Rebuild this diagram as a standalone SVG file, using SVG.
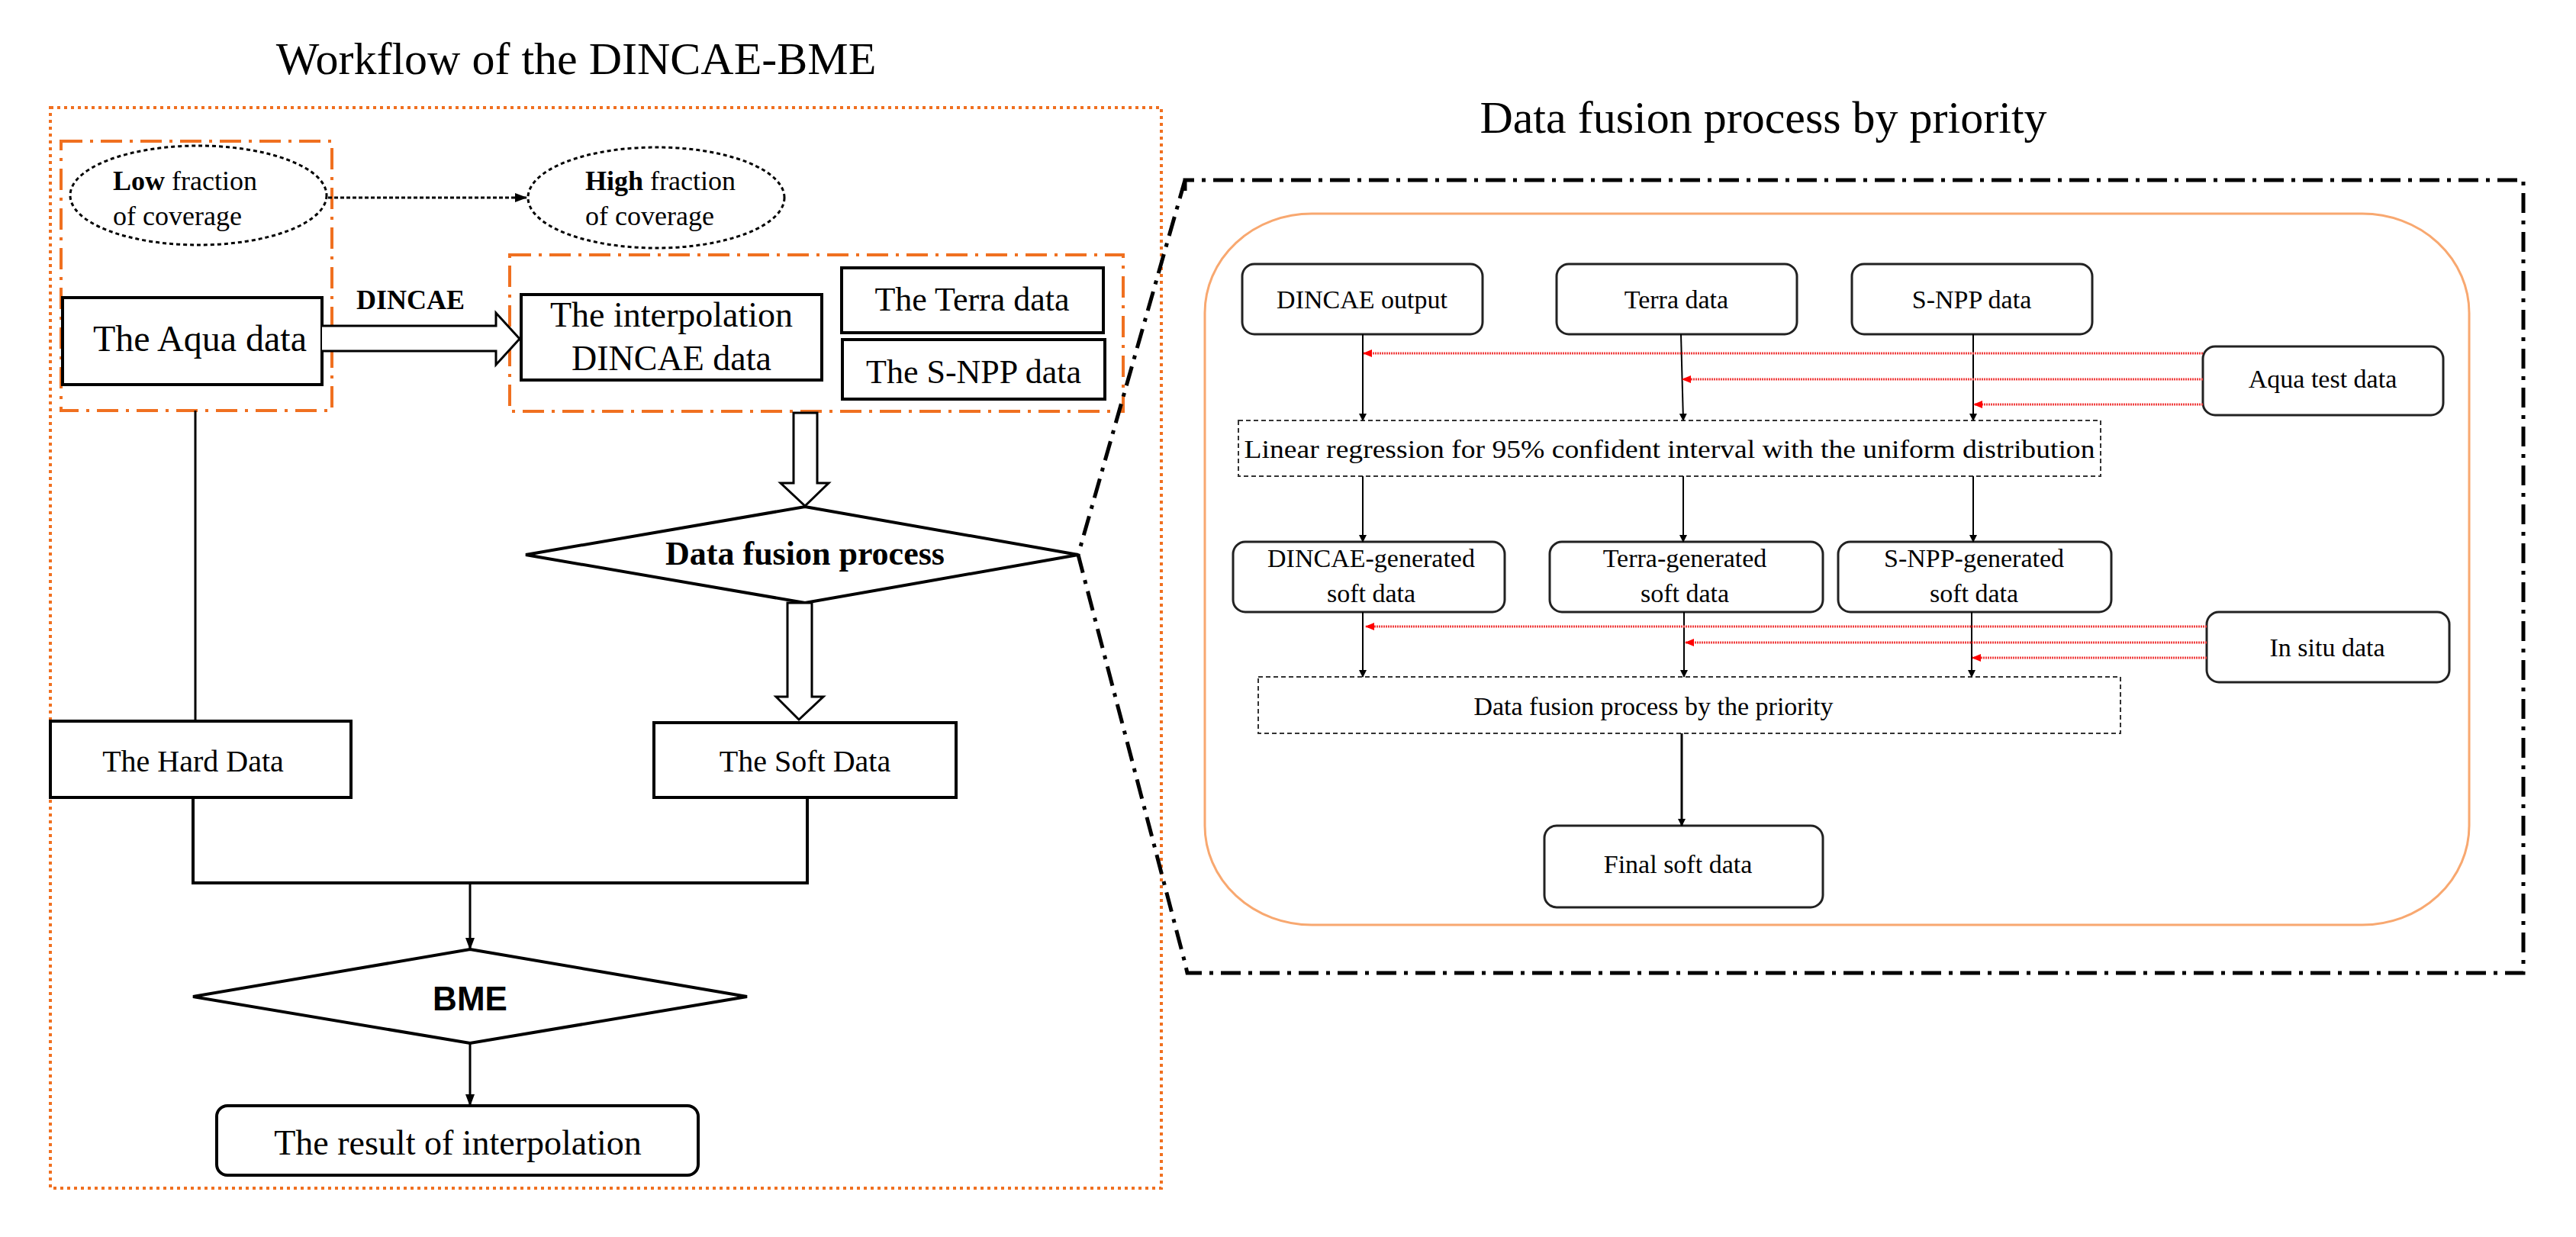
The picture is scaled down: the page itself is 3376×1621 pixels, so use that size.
<svg xmlns="http://www.w3.org/2000/svg" width="3376" height="1621" viewBox="0 0 3376 1621">
<style>
text{font-family:"Liberation Serif","Times New Roman",serif;fill:#000}
.t{font-size:40px;text-anchor:middle}
.s{font-size:34px;text-anchor:middle}
.box{fill:#fff;stroke:#000;stroke-width:4}
.rb{fill:#fff;stroke:#222;stroke-width:3}
.ln{fill:none;stroke:#000;stroke-width:3}
.thin{fill:none;stroke:#000;stroke-width:2}
.red{fill:none;stroke:#f04040;stroke-width:3;stroke-dasharray:2 1}
.od{fill:none;stroke:#f07020;stroke-width:4;stroke-dasharray:28 10 4 10}
</style>
<defs>
<marker id="ab" markerWidth="10" markerHeight="10" refX="9" refY="5" orient="auto" markerUnits="userSpaceOnUse" viewBox="0 0 10 10"><path d="M0,0 L10,5 L0,10 z" fill="#000"/></marker>
<marker id="ab2" markerWidth="16" markerHeight="16" refX="15" refY="8" orient="auto" markerUnits="userSpaceOnUse" viewBox="0 0 16 16"><path d="M0,2 L16,8 L0,14 z" fill="#000"/></marker>
<marker id="ar" markerWidth="12" markerHeight="12" refX="11" refY="6" orient="auto" markerUnits="userSpaceOnUse" viewBox="0 0 12 12"><path d="M0,1 L12,6 L0,11 z" fill="#f00"/></marker>
</defs>
<rect width="3376" height="1621" fill="#fff"/>

<text x="755" y="97" style="font-size:60px" text-anchor="middle">Workflow of the DINCAE-BME</text>
<text x="2311" y="174" style="font-size:60px" text-anchor="middle">Data fusion process by priority</text>

<g id="frames">
<rect x="66" y="141" width="1456" height="1416" fill="none" stroke="#f07020" stroke-width="4" stroke-dasharray="4 5"/>
<rect class="od" x="80" y="185" width="355" height="353"/>
<rect class="od" x="668" y="334" width="804" height="205"/>
<path d="M1553,250 L1553,236 L3307,236 L3307,1275 L1556,1275 L1553,1262 L1413,727 L1553,236" fill="none" stroke="#000" stroke-width="5" stroke-dasharray="26 10 5 10"/>
<rect x="1579" y="280" width="1657" height="932" rx="140" ry="130" fill="none" stroke="#f8a870" stroke-width="3"/>
</g>

<g id="n-low"><ellipse cx="260" cy="256" rx="168" ry="65" fill="#fff" stroke="#000" stroke-width="3" stroke-dasharray="5 4"/>
<text x="148" y="249" style="font-size:36px"><tspan font-weight="bold">Low</tspan> fraction</text><text x="148" y="295" style="font-size:36px">of coverage</text></g>
<g id="n-high"><ellipse cx="860" cy="259" rx="168" ry="66" fill="#fff" stroke="#000" stroke-width="3" stroke-dasharray="5 4"/>
<text x="767" y="249" style="font-size:36px"><tspan font-weight="bold">High</tspan> fraction</text><text x="767" y="295" style="font-size:36px">of coverage</text></g>
<g id="n-aqua"><rect class="box" x="82" y="390" width="340" height="114"/><text class="t" x="262" y="460" style="font-size:48px">The Aqua data</text></g>
<g id="n-interp"><rect class="box" x="683" y="386" width="394" height="112"/><text class="t" x="880" y="428" style="font-size:46px">The interpolation</text><text class="t" x="880" y="485" style="font-size:46px">DINCAE data</text></g>
<g id="n-terra"><rect class="box" x="1103" y="351" width="343" height="85"/><text class="t" x="1274" y="407" style="font-size:44px">The Terra data</text></g>
<g id="n-snpp"><rect class="box" x="1104" y="445" width="344" height="78"/><text class="t" x="1276" y="502" style="font-size:44px">The S-NPP data</text></g>
<g id="n-fusion"><path d="M1055,664 L1413,727 L1055,790 L689,727 Z" class="box"/><text class="t" x="1055" y="740" font-weight="bold" style="font-size:44px">Data fusion process</text></g>
<g id="n-hard"><rect class="box" x="66" y="945" width="394" height="100"/><text class="t" x="253" y="1011">The Hard Data</text></g>
<g id="n-soft"><rect class="box" x="857" y="947" width="396" height="98"/><text class="t" x="1055" y="1011">The Soft Data</text></g>
<g id="n-bme"><path d="M616,1244 L979,1306 L616,1367 L253,1306 Z" class="box"/><text class="t" x="616" y="1324" font-weight="bold" style="font-family:'Liberation Sans',Arial,sans-serif;font-size:44px">BME</text></g>
<g id="n-result"><rect class="box" x="284" y="1449" width="631" height="91" rx="14"/><text class="t" x="600" y="1513" style="font-size:46px">The result of interpolation</text></g>

<g id="n-dout"><rect class="rb" x="1628" y="346" width="315" height="92" rx="16"/><text class="s" x="1785" y="404">DINCAE output</text></g>
<g id="n-tdata"><rect class="rb" x="2040" y="346" width="315" height="92" rx="16"/><text class="s" x="2197" y="404">Terra data</text></g>
<g id="n-sdata"><rect class="rb" x="2427" y="346" width="315" height="92" rx="16"/><text class="s" x="2584" y="404">S-NPP data</text></g>
<g id="n-aquatest"><rect class="rb" x="2887" y="454" width="315" height="90" rx="16"/><text class="s" x="3044" y="508">Aqua test data</text></g>
<g id="n-linreg"><rect x="1623" y="551" width="1130" height="73" fill="#fff" stroke="#333" stroke-width="2" stroke-dasharray="6 4"/><text class="s" x="2188" y="600" textLength="1115" lengthAdjust="spacingAndGlyphs">Linear regression for 95% confident interval with the uniform distribution</text></g>
<g id="n-dgen"><rect class="rb" x="1616" y="710" width="356" height="92" rx="16"/><text class="s" x="1797" y="743">DINCAE-generated</text><text class="s" x="1797" y="789">soft data</text></g>
<g id="n-tgen"><rect class="rb" x="2031" y="710" width="358" height="92" rx="16"/><text class="s" x="2208" y="743">Terra-generated</text><text class="s" x="2208" y="789">soft data</text></g>
<g id="n-sgen"><rect class="rb" x="2409" y="710" width="358" height="92" rx="16"/><text class="s" x="2587" y="743">S-NPP-generated</text><text class="s" x="2587" y="789">soft data</text></g>
<g id="n-insitu"><rect class="rb" x="2892" y="802" width="318" height="92" rx="16"/><text class="s" x="3050" y="860">In situ data</text></g>
<g id="n-dfp"><rect x="1649" y="887" width="1130" height="74" fill="#fff" stroke="#333" stroke-width="2" stroke-dasharray="6 4"/><text class="s" x="2167" y="937">Data fusion process by the priority</text></g>
<g id="n-final"><rect class="rb" x="2024" y="1082" width="365" height="107" rx="16"/><text class="s" x="2199" y="1144">Final soft data</text></g>

<g id="connectors">
<path d="M430,259 L690,259" fill="none" stroke="#000" stroke-width="3" stroke-dasharray="5 3" marker-end="url(#ab2)"/>
<path d="M422,427 L650,427 L650,410 L681,444 L650,478 L650,460 L422,460" fill="#fff" stroke="#000" stroke-width="3"/>
<text x="467" y="405" font-weight="bold" style="font-size:36px">DINCAE</text>
<path d="M1040,541 L1071,541 L1071,633 L1086,633 L1055,663 L1023,633 L1040,633 Z" fill="#fff" stroke="#000" stroke-width="3"/>
<path d="M1032,790 L1064,790 L1064,913 L1079,913 L1047,943 L1017,913 L1032,913 Z" fill="#fff" stroke="#000" stroke-width="3"/>
<path class="ln" d="M256,538 L256,945"/>
<path class="ln" d="M253,1045 L253,1157 L1058,1157 L1058,1045" style="stroke-width:4"/>
<path class="ln" d="M616,1157 L616,1244" marker-end="url(#ab2)"/>
<path class="ln" d="M616,1367 L616,1449" marker-end="url(#ab2)"/>

<path class="thin" d="M1786,438 L1786,551" marker-end="url(#ab)"/>
<path class="thin" d="M2203,438 L2206,551" marker-end="url(#ab)"/>
<path class="thin" d="M2586,438 L2586,551" marker-end="url(#ab)"/>
<path class="red" d="M2887,463 L1787,463" marker-end="url(#ar)"/>
<path class="red" d="M2887,497 L2205,497" marker-end="url(#ar)"/>
<path class="red" d="M2887,530 L2587,530" marker-end="url(#ar)"/>
<path class="thin" d="M1786,624 L1786,710" marker-end="url(#ab)"/>
<path class="thin" d="M2206,624 L2206,710" marker-end="url(#ab)"/>
<path class="thin" d="M2586,624 L2586,710" marker-end="url(#ab)"/>
<path class="thin" d="M1786,802 L1786,887" marker-end="url(#ab)"/>
<path class="thin" d="M2207,802 L2207,887" marker-end="url(#ab)"/>
<path class="thin" d="M2584,802 L2584,887" marker-end="url(#ab)"/>
<path class="red" d="M2892,821 L1790,821" marker-end="url(#ar)"/>
<path class="red" d="M2892,842 L2209,842" marker-end="url(#ar)"/>
<path class="red" d="M2892,862 L2585,862" marker-end="url(#ar)"/>
<path class="ln" d="M2204,961 L2204,1082" marker-end="url(#ab)"/>
</g>
</svg>
